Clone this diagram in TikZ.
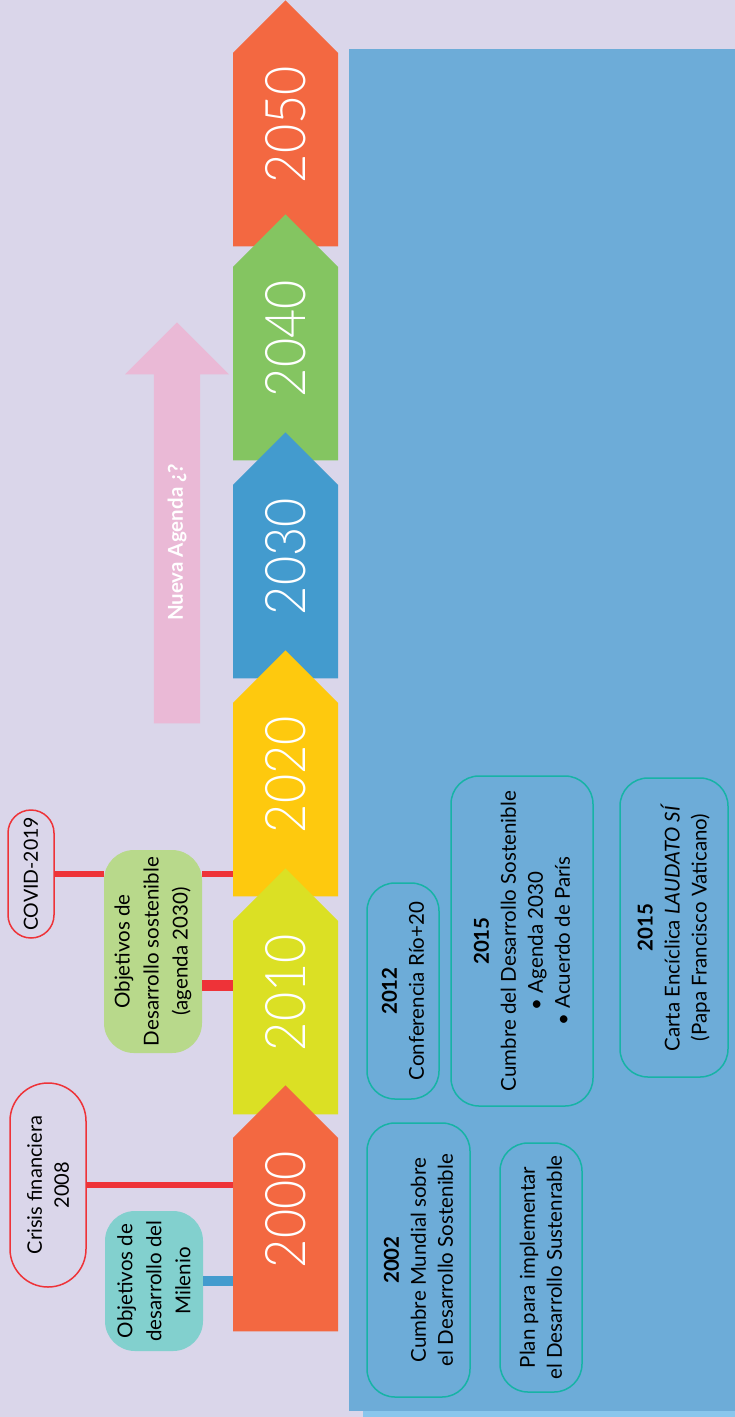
\documentclass[tikz,border=0pt]{standalone}
\usepackage{fontspec}
\setmainfont{Lato}
\newfontfamily\yearfont[FakeStretch=0.9]{Lato Light}
\usetikzlibrary{shapes.arrows,shapes.misc}
\definecolor{fondo}{HTML}{DAD6EA}
\definecolor{panel}{HTML}{6DACD8}
\definecolor{sombra}{HTML}{89C6EC}
\definecolor{naranja}{HTML}{F36841}
\definecolor{lima}{HTML}{DBE024}
\definecolor{amarillo}{HTML}{FEC90E}
\definecolor{azul}{HTML}{439BCE}
\definecolor{verde}{HTML}{84C561}
\definecolor{rosa}{HTML}{EAB9D6}
\definecolor{verdeclaro}{HTML}{B8D98B}
\definecolor{turquesa}{HTML}{82D0CE}
\definecolor{rojo}{HTML}{EE3338}
\definecolor{borde}{HTML}{17B3A6}

\begin{document}
\begin{tikzpicture}[x=1pt,y=-1pt,
    anio/.style={single arrow,single arrow head extend=0pt,
        single arrow tip angle=90,minimum width=105pt,minimum height=246pt,
        inner sep=0pt,rotate=90,anchor=tip,text=white,
        font=\yearfont\fontsize{56}{56}\selectfont},
    hito/.style={rounded rectangle,draw=rojo,line width=1.5pt,fill=fondo,
        rotate=90,align=center,inner sep=0pt,font=\fontsize{20}{27}\selectfont},
    meta/.style={rounded corners=30pt,rotate=90,align=center,inner sep=0pt,
        font=\fontsize{20.5}{29}\selectfont}]
    \tikzstyle{caja}=[draw=borde,line width=1.5pt,rounded corners=28pt,rotate=90,
        align=center,inner sep=0pt,font=\fontsize{20.5}{27}\selectfont]

    \fill[fondo] (0,0) rectangle (735,1417);
    \fill[panel] (349,49) rectangle (735,1411);
    \fill[sombra] (363,1411) rectangle (735,1417);

    \node[single arrow,single arrow head extend=12pt,single arrow tip angle=90,
        minimum width=104pt,minimum height=401pt,inner sep=0pt,rotate=90,
        anchor=tip,fill=rosa,text=white,font=\bfseries\fontsize{20.5}{20.5}\selectfont]
        (nueva) at (177,322) {Nueva Agenda ¿?\hspace*{16pt}};

    \node[anio,fill=naranja] (y2050) at (285.5,0) {\hspace*{50pt}2050};
    \node[anio,fill=verde] (y2040) at (285.5,214) {\hspace*{50pt}2040};
    \node[anio,fill=azul] (y2030) at (285.5,432) {\hspace*{50pt}2030};
    \node[anio,fill=amarillo] (y2020) at (285.5,650) {\hspace*{50pt}2020};
    \node[anio,fill=lima] (y2010) at (285.5,868) {\hspace*{50pt}2010};
    \node[anio,fill=naranja] (y2000) at (285.5,1085) {\hspace*{50pt}2000};

    \node[hito,minimum width=128pt,minimum height=46pt,font=\fontsize{19.5}{20}\selectfont]
        (covid) at (31,874) {COVID-2019};
    \node[hito,minimum width=204pt,minimum height=76pt] (crisis) at (48,1185)
        {Crisis financiera\\2008};
    \node[meta,fill=verdeclaro,minimum width=203pt,minimum height=98pt] (ods) at (153,951.5)
        {Objetivos de\\Desarrollo sostenible\\(agenda 2030)};
    \node[meta,fill=turquesa,minimum width=140pt,minimum height=98pt] (odm) at (154,1281)
        {Objetivos de\\desarrollo del\\Milenio};

    \draw[rojo,line width=6pt] (covid.south) -- (ods.north |- covid.south);
    \draw[rojo,line width=6pt] (ods.south |- covid.south) -- (covid.south -| y2020.north);
    \draw[rojo,line width=11pt] ([yshift=-34pt]ods.south) -- ([yshift=-34pt]ods.south -| y2010.north);
    \draw[rojo,line width=6pt] (crisis.south) -- (crisis.south -| y2000.north);
    \draw[azul,line width=10pt] (odm.south) -- (odm.south -| y2000.north);

    \node[caja,minimum width=216pt,minimum height=72pt] (rio) at (403,991)
        {\textbf{2012}\\Conferencia Río+20};
    \node[caja,minimum width=330pt,minimum height=142pt] (cumbre15) at (522,941)
        {\textbf{2015}\\Cumbre del Desarrollo Sostenible\\\textbullet\ Agenda 2030\\\textbullet\ Acuerdo de París};
    \node[caja,minimum width=299pt,minimum height=108pt] (laudato) at (674,927.5)
        {\textbf{2015}\\Carta Encíclica \textit{LAUDATO SÍ}\\(Papa Francisco Vaticano)};
    \node[caja,minimum width=274pt,minimum height=103pt] (cumbre02) at (418.5,1260)
        {\textbf{2002}\\Cumbre Mundial sobre\\el Desarrollo Sostenible};
    \node[caja,minimum width=249pt,minimum height=82pt] (plan) at (541,1267.5)
        {Plan para implementar\\el Desarrollo Sustenrable};

\end{tikzpicture}
\end{document}
